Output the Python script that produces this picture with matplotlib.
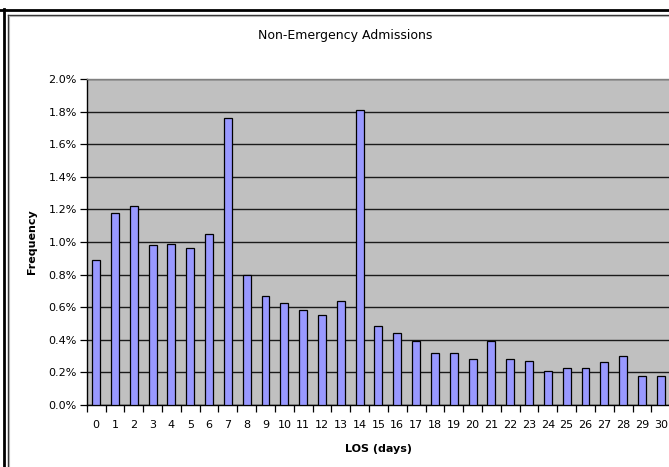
import matplotlib.pyplot as plt
from matplotlib.lines import Line2D
from matplotlib.ticker import PercentFormatter, FixedLocator, NullFormatter
import numpy as np

# length of stay, days
los_days = list(range(31))
# frequency, %
freq_pct = [0.89, 1.18, 1.22, 0.98, 0.99, 0.965, 1.05, 1.76, 0.80, 0.67,
            0.625, 0.58, 0.555, 0.635, 1.81, 0.485, 0.44, 0.395, 0.32, 0.32,
            0.285, 0.39, 0.285, 0.27, 0.21, 0.228, 0.228, 0.262, 0.298, 0.175,
            0.175]
y_ticks = [0.0, 0.2, 0.4, 0.6, 0.8, 1.0, 1.2, 1.4, 1.6, 1.8, 2.0]

W, H = 669, 467
fig = plt.figure(figsize=(W / 100, H / 100), dpi=100)
plt.rcParams['font.family'] = 'DejaVu Sans'

# plot area in pixels: left 86.7, right ~670, top 79, bottom 405
ax = fig.add_axes([86.7 / W, 1 - 405 / H, (670.2 - 86.7) / W, (405 - 79) / H])
ax.set_facecolor('#c0c0c0')

x = np.array(los_days)
ax.bar(x, freq_pct, width=0.42, color='#9999ff', edgecolor='black',
       linewidth=0.9, zorder=3)

ax.set_xlim(-0.5, len(los_days) - 0.5)
ax.set_ylim(0, 2.0)
ax.set_yticks(y_ticks)
ax.yaxis.set_major_formatter(PercentFormatter(decimals=1))
ax.grid(axis='y', color='#1a1a1a', linewidth=1.0, zorder=1)
ax.set_axisbelow(True)

# ticks at category boundaries, labels at centres
ax.xaxis.set_major_locator(FixedLocator(np.arange(-0.5, len(los_days), 1.0)))
ax.xaxis.set_major_formatter(NullFormatter())
ax.xaxis.set_minor_locator(FixedLocator(x))
ax.set_xticklabels([str(d) for d in los_days], minor=True)
ax.tick_params(axis='x', which='major', length=5, width=0.9, color='black')
ax.tick_params(axis='x', which='minor', length=0, labelsize=8, pad=11)
ax.tick_params(axis='y', length=5, width=0.9, labelsize=8, pad=2)

for s in ['left', 'bottom']:
    ax.spines[s].set_color('black')
    ax.spines[s].set_linewidth(1.0)
ax.spines['top'].set_color('#808080')
ax.spines['top'].set_linewidth(1.0)
ax.spines['right'].set_visible(False)

ax.set_xlabel('LOS (days)', fontsize=8, fontweight='bold', labelpad=10)
ax.set_ylabel('Frequency', fontsize=8, fontweight='bold', labelpad=8)
fig.text(345 / W, 1 - 36 / H, 'Non-Emergency Admissions', fontsize=9,
         ha='center', va='center')

# frame lines around the chart
def px(xp, yp):
    return xp / W, 1 - yp / H

fig.add_artist(Line2D(*zip(px(0, 10), px(W, 10)), color='black', linewidth=2.0))
fig.add_artist(Line2D(*zip(px(3.8, 9), px(3.8, H)), color='black', linewidth=2.0))
fig.add_artist(Line2D(*zip(px(7.5, 14.5), px(W, 14.5)), color='#303030', linewidth=1.0))
fig.add_artist(Line2D(*zip(px(7.5, 14.5), px(7.5, H)), color='#303030', linewidth=1.0))
fig.add_artist(Line2D(*zip(px(8.5, 15.5), px(W, 15.5)), color='#b0b0b0', linewidth=0.8))
fig.add_artist(Line2D(*zip(px(8.5, 15.5), px(8.5, H)), color='#b0b0b0', linewidth=0.8))

fig.savefig('out.png', dpi=100)
